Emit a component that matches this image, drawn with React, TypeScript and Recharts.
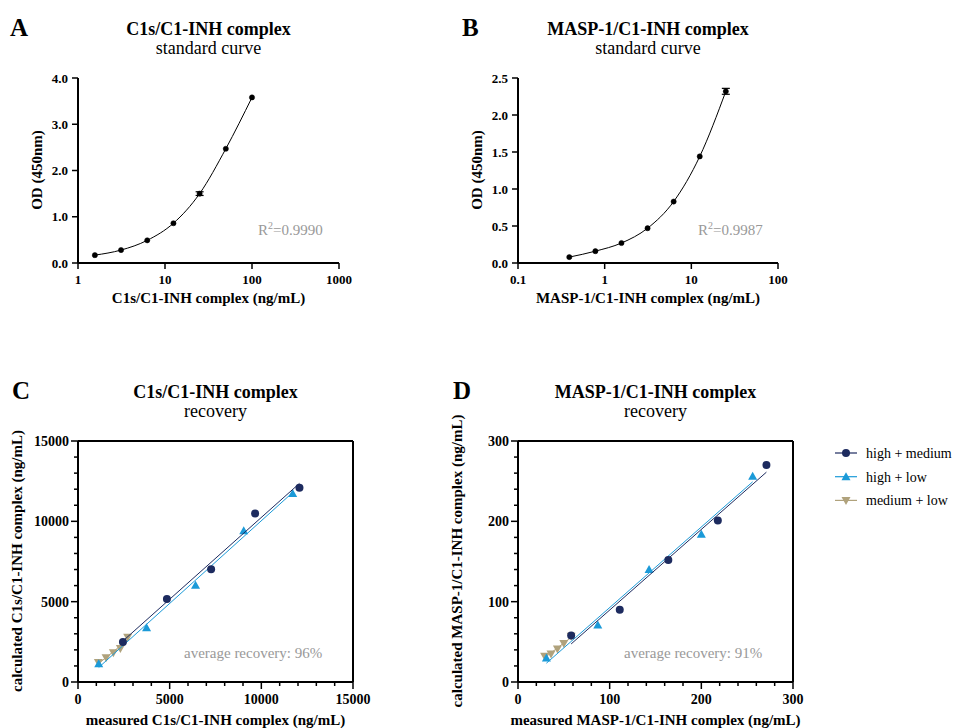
import React from 'react';
import {
  LineChart, Line, ScatterChart, Scatter, XAxis, YAxis, ErrorBar, ReferenceLine,
} from 'recharts';

const FONT = '"Liberation Serif", "Times New Roman", serif';
const NAVY = '#1d2b5f';
const BLUE = '#1b9ad8';
const TAN = '#b0a27c';
const GREY = '#999999';

// A: C1s/C1-INH standard curve
const c1sConc = [1.5625, 3.125, 6.25, 12.5, 25, 50, 100];
const c1sOd = [0.17, 0.28, 0.49, 0.86, 1.5, 2.47, 3.58];
const c1sSd = [0, 0, 0, 0, 0.04, 0, 0];
const c1sXTicks = [1, 10, 100, 1000];
const c1sYTicks = [0, 1, 2, 3, 4];

// B: MASP-1/C1-INH standard curve
const maspConc = [0.390625, 0.78125, 1.5625, 3.125, 6.25, 12.5, 25];
const maspOd = [0.08, 0.16, 0.27, 0.47, 0.83, 1.44, 2.32];
const maspSd = [0, 0, 0, 0, 0, 0, 0.04];
const maspXTicks = [0.1, 1, 10, 100];
const maspYTicks = [0, 0.5, 1, 1.5, 2, 2.5];

// C: C1s/C1-INH recovery (measured vs calculated)
const c1sHmX = [2450, 4850, 7260, 9660, 12080];
const c1sHmY = [2490, 5170, 7020, 10490, 12090];
const c1sHlX = [1130, 3740, 6410, 9040, 11710];
const c1sHlY = [1140, 3370, 6020, 9410, 11740];
const c1sMlX = [1110, 1530, 1930, 2310, 2710];
const c1sMlY = [1220, 1510, 1820, 2090, 2780];
const c1sRecTicks = Array.from({ length: 16 }, (_, i) => i * 1000);

// D: MASP-1/C1-INH recovery
const maspHmX = [58, 111, 164, 218, 271];
const maspHmY = [58, 90, 152, 201, 270];
const maspHlX = [31, 87, 143, 200, 256];
const maspHlY = [30, 71, 140, 184, 256];
const maspMlX = [29, 36, 43, 50, 58];
const maspMlY = [32, 35, 41, 48, 57];
const maspRecTicks = Array.from({ length: 16 }, (_, i) => i * 20);

const legendNames = ['high + medium', 'high + low', 'medium + low'];

const toPoints = (xs: number[], ys: number[], sd?: number[]) =>
  xs.map((x, i) => ({ x, y: ys[i], sd: sd ? sd[i] : 0 }));

type TickOpts = {
  major: (v: number) => boolean;
  fmt: (v: number) => string;
  size: number;
  gap: number;
  majorLen: number;
  minorLen: number;
};

const xTick = (o: TickOpts) => (p: any) => {
  const v = p.payload.value;
  const maj = o.major(v);
  return (
    <g>
      <line x1={p.x} x2={p.x} y1={p.y} y2={p.y + (maj ? o.majorLen : o.minorLen)} stroke="#000" strokeWidth={1.5} />
      {maj && (
        <text x={p.x} y={p.y + o.gap} textAnchor="middle" fontFamily={FONT} fontWeight="bold" fontSize={o.size} fill="#000">
          {o.fmt(v)}
        </text>
      )}
    </g>
  );
};

const yTick = (o: TickOpts) => (p: any) => {
  const v = p.payload.value;
  const maj = o.major(v);
  return (
    <g>
      <line x1={p.x - (maj ? o.majorLen : o.minorLen)} x2={p.x} y1={p.y} y2={p.y} stroke="#000" strokeWidth={1.5} />
      {maj && (
        <text x={p.x - o.gap} y={p.y + o.size * 0.35} textAnchor="end" fontFamily={FONT} fontWeight="bold" fontSize={o.size} fill="#000">
          {o.fmt(v)}
        </text>
      )}
    </g>
  );
};

const circle = (color: string) => (p: any) => <circle cx={p.cx} cy={p.cy} r={4} fill={color} />;
const triUp = (color: string) => (p: any) => (
  <path d={`M${p.cx},${p.cy - 4.5} L${p.cx + 4.5},${p.cy + 3.5} L${p.cx - 4.5},${p.cy + 3.5} Z`} fill={color} />
);
const triDown = (color: string) => (p: any) => (
  <path d={`M${p.cx},${p.cy + 4.5} L${p.cx + 4.5},${p.cy - 3.5} L${p.cx - 4.5},${p.cy - 3.5} Z`} fill={color} />
);

const axisLine = { stroke: '#000', strokeWidth: 2 };

function Titles({ letter, lx, cx, title, sub, ty }: { letter: string; lx: number; cx: number; title: string; sub: string; ty: number }) {
  return (
    <g fontFamily={FONT} fill="#000">
      <text x={lx} y={ty + 1} fontSize={25} fontWeight="bold">{letter}</text>
      <text x={cx} y={ty} fontSize={18} fontWeight="bold" textAnchor="middle">{title}</text>
      <text x={cx} y={ty + 19} fontSize={18} textAnchor="middle">{sub}</text>
    </g>
  );
}

function AxisLabels({ cx, xy, yx, cy, xl, yl }: { cx: number; xy: number; yx: number; cy: number; xl: string; yl: string }) {
  return (
    <g fontFamily={FONT} fontWeight="bold" fontSize={15} fill="#000">
      <text x={cx} y={xy} textAnchor="middle">{xl}</text>
      <text x={yx} y={cy} textAnchor="middle" transform={`rotate(-90, ${yx}, ${cy})`}>{yl}</text>
    </g>
  );
}

function StdCurve(props: {
  data: { x: number; y: number; sd: number }[];
  xTicks: number[]; yTicks: number[]; xDomain: [number, number]; yMax: number;
  letter: string; lx: number; title: string; r2: string; yLabel: string; xLabel: string; right: number; width: number;
}) {
  const tickA: TickOpts = { major: () => true, fmt: (v) => String(v), size: 13, gap: 21, majorLen: 6, minorLen: 6 };
  const tickY: TickOpts = { major: () => true, fmt: (v) => v.toFixed(1), size: 13, gap: 10, majorLen: 6, minorLen: 6 };
  const left = 78;
  const cx = left + (props.width - left - props.right) / 2;
  return (
    <LineChart width={props.width} height={364} data={props.data} margin={{ top: 78, right: props.right, bottom: 100, left: left - 1 }}>
      <XAxis dataKey="x" type="number" scale="log" domain={props.xDomain} ticks={props.xTicks} interval={0} allowDataOverflow
        height={1} tickSize={0} tickMargin={0} tickLine={false} axisLine={axisLine} tick={xTick(tickA)} />
      <YAxis type="number" domain={[0, props.yMax]} ticks={props.yTicks} interval={0}
        width={1} tickSize={0} tickMargin={0} tickLine={false} axisLine={axisLine} tick={yTick(tickY)} />
      <Line dataKey="y" type="monotone" stroke="#000" strokeWidth={1} isAnimationActive={false}
        dot={{ r: 2.6, fill: '#000', stroke: '#000', strokeWidth: 0.5 }}>
        <ErrorBar dataKey="sd" width={4} stroke="#000" strokeWidth={1.2} direction="y" />
      </Line>
      <Titles letter={props.letter} lx={props.lx} cx={cx} title={props.title} sub="standard curve" ty={35} />
      <AxisLabels cx={cx} xy={303} yx={42} cy={170} xl={props.xLabel} yl={props.yLabel} />
      <text x={left + 180} y={235} fontFamily={FONT} fontSize={15} fill={GREY}>
        R<tspan dy={-6} fontSize={10}>2</tspan><tspan dy={6}>={props.r2}</tspan>
      </text>
    </LineChart>
  );
}

function Recovery(props: {
  hm: { x: number; y: number }[]; hl: { x: number; y: number }[]; ml: { x: number; y: number }[];
  ticks: number[]; max: number; step: number;
  letter: string; lx: number; title: string; rec: string; yLabel: string; xLabel: string; width: number; right: number;
  legend?: boolean;
}) {
  const major = (v: number) => v % props.step === 0;
  const tx: TickOpts = { major, fmt: (v) => String(v), size: 14, gap: 22, majorLen: 7, minorLen: 4 };
  const ty: TickOpts = { major, fmt: (v) => String(v), size: 14, gap: 9, majorLen: 7, minorLen: 4 };
  const left = 78;
  const cx = left + (props.width - left - props.right) / 2;
  return (
    <ScatterChart width={props.width} height={364} margin={{ top: 77, right: props.right, bottom: 45, left: left - 1 }}>
      <XAxis dataKey="x" type="number" domain={[0, props.max]} ticks={props.ticks} interval={0}
        height={1} tickSize={0} tickMargin={0} tickLine={false} axisLine={axisLine} tick={xTick(tx)} />
      <YAxis dataKey="y" type="number" domain={[0, props.max]} ticks={props.ticks} interval={0}
        width={1} tickSize={0} tickMargin={0} tickLine={false} axisLine={axisLine} tick={yTick(ty)} />
      <ReferenceLine y={props.max} stroke="#000" strokeWidth={2} />
      <ReferenceLine x={props.max} stroke="#000" strokeWidth={2} />
      <Scatter data={props.ml} shape={triDown(TAN)} line={{ stroke: TAN, strokeWidth: 1 }} lineType="fitting" isAnimationActive={false} />
      <Scatter data={props.hl} shape={triUp(BLUE)} line={{ stroke: BLUE, strokeWidth: 1 }} lineType="fitting" isAnimationActive={false} />
      <Scatter data={props.hm} shape={circle(NAVY)} line={{ stroke: NAVY, strokeWidth: 1 }} lineType="fitting" isAnimationActive={false} />
      <Titles letter={props.letter} lx={props.lx} cx={cx} title={props.title} sub="recovery" ty={34} />
      <AxisLabels cx={cx} xy={361} yx={22} cy={197} xl={props.xLabel} yl={props.yLabel} />
      <text x={left + 106} y={294} fontFamily={FONT} fontSize={15} fill={GREY}>{`average recovery: ${props.rec}`}</text>
      {props.legend && (
        <g fontFamily={FONT} fontSize={14} fill="#000">
          {legendNames.map((name, i) => {
            const y = 89 + i * 23.7;
            const color = [NAVY, BLUE, TAN][i];
            const shape = [circle, triUp, triDown][i](color);
            return (
              <g key={name}>
                <line x1={395} x2={417} y1={y} y2={y} stroke={color} strokeWidth={1.2} />
                {shape({ cx: 406, cy: y })}
                <text x={426} y={y + 5}>{name}</text>
              </g>
            );
          })}
        </g>
      )}
    </ScatterChart>
  );
}

export default function App() {
  return (
    <div style={{ position: 'absolute', left: 0, top: 0, width: 954, height: 728, background: '#fff', overflow: 'hidden' }}>
      <div style={{ position: 'absolute', left: 0, top: 0 }}>
        <StdCurve data={toPoints(c1sConc, c1sOd, c1sSd)} xTicks={c1sXTicks} yTicks={c1sYTicks} xDomain={[1, 1000]} yMax={4}
          letter="A" lx={10} title="C1s/C1-INH complex" r2="0.9990" yLabel="OD (450nm)" xLabel="C1s/C1-INH complex (ng/mL)"
          width={440} right={101} />
      </div>
      <div style={{ position: 'absolute', left: 440, top: 0 }}>
        <StdCurve data={toPoints(maspConc, maspOd, maspSd)} xTicks={maspXTicks} yTicks={maspYTicks} xDomain={[0.1, 100]} yMax={2.5}
          letter="B" lx={22} title="MASP-1/C1-INH complex" r2="0.9987" yLabel="OD (450nm)" xLabel="MASP-1/C1-INH complex (ng/mL)"
          width={514} right={176} />
      </div>
      <div style={{ position: 'absolute', left: 0, top: 364 }}>
        <Recovery hm={toPoints(c1sHmX, c1sHmY)} hl={toPoints(c1sHlX, c1sHlY)} ml={toPoints(c1sMlX, c1sMlY)}
          ticks={c1sRecTicks} max={15000} step={5000} letter="C" lx={12} title="C1s/C1-INH complex" rec="96%"
          yLabel="calculated C1s/C1-INH complex (ng/mL)" xLabel="measured C1s/C1-INH complex (ng/mL)" width={440} right={87} />
      </div>
      <div style={{ position: 'absolute', left: 440, top: 364 }}>
        <Recovery hm={toPoints(maspHmX, maspHmY)} hl={toPoints(maspHlX, maspHlY)} ml={toPoints(maspMlX, maspMlY)}
          ticks={maspRecTicks} max={300} step={100} letter="D" lx={13} title="MASP-1/C1-INH complex" rec="91%"
          yLabel="calculated MASP-1/C1-INH complex (ng/mL)" xLabel="measured MASP-1/C1-INH complex (ng/mL)" width={514} right={161}
          legend />
      </div>
    </div>
  );
}
